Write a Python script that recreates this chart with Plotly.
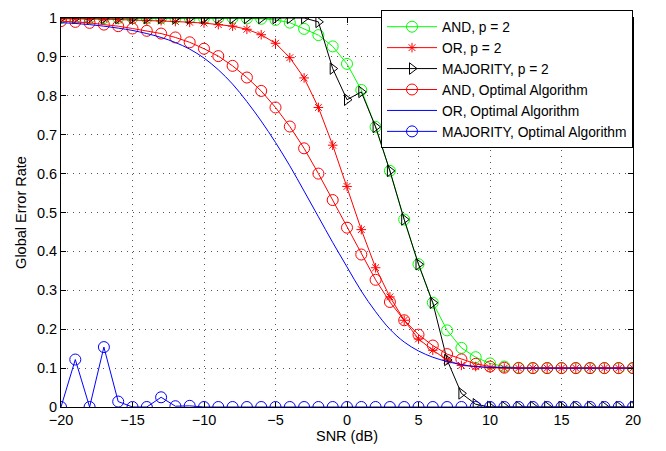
import plotly.graph_objects as go

snr = list(range(-20, 21))

and_p2 = [1.0, 1.0, 1.0, 1.0, 1.0, 1.0, 1.0, 1.0, 1.0, 1.0, 1.0, 1.0, 1.0, 0.999,
          0.998, 0.995, 0.988, 0.972, 0.956, 0.927, 0.882, 0.815, 0.72, 0.607,
          0.482, 0.367, 0.268, 0.197, 0.152, 0.128, 0.112, 0.104, 0.101,
          0.1, 0.1, 0.1, 0.1, 0.1, 0.1, 0.1, 0.1]

or_p2 = [0.998, 0.998, 0.997, 0.997, 0.996, 0.995, 0.994, 0.993, 0.991, 0.989,
         0.987, 0.983, 0.979, 0.971, 0.957, 0.935, 0.898, 0.846, 0.77, 0.673,
         0.567, 0.456, 0.358, 0.283, 0.223, 0.175, 0.146, 0.121, 0.107, 0.104,
         0.101, 0.1, 0.1, 0.1, 0.1, 0.1, 0.1, 0.1, 0.1, 0.1, 0.1]

maj_p2 = [1.0, 1.0, 1.0, 1.0, 1.0, 1.0, 1.0, 1.0, 1.0, 1.0, 1.0, 1.0, 1.0, 1.0,
          1.0, 1.0, 1.0, 1.0, 0.99, 0.87, 0.79, 0.81, 0.72, 0.607, 0.482,
          0.367, 0.268, 0.121, 0.035, 0.007, 0, 0, 0, 0, 0, 0, 0, 0, 0, 0, 0]

and_opt = [0.992, 0.99, 0.9875, 0.983, 0.979, 0.973, 0.967, 0.96, 0.95, 0.9375,
           0.921, 0.902, 0.877, 0.847, 0.8125, 0.77, 0.721, 0.665, 0.6, 0.532,
           0.461, 0.392, 0.327, 0.27, 0.223, 0.186, 0.158, 0.136, 0.1225, 0.111,
           0.104, 0.101, 0.1, 0.1, 0.1, 0.1, 0.1, 0.1, 0.1, 0.1, 0.1]

or_opt = [0.988, 0.986, 0.983, 0.979, 0.974, 0.968, 0.96, 0.95, 0.937, 0.92,
          0.897, 0.867, 0.83, 0.785, 0.735, 0.68, 0.62, 0.555, 0.489, 0.423,
          0.36, 0.298, 0.245, 0.2, 0.167, 0.144, 0.128, 0.117, 0.109, 0.104,
          0.102, 0.101, 0.1, 0.1, 0.1, 0.1, 0.1, 0.1, 0.1, 0.1, 0.1]

maj_opt = [0, 0.122, 0, 0.154, 0.014, 0, 0, 0.025, 0.002, 0.003, 0, 0, 0, 0,
           0, 0, 0, 0, 0, 0, 0, 0, 0, 0, 0, 0, 0, 0, 0, 0, 0, 0, 0, 0, 0, 0,
           0, 0, 0, 0, 0]

names = ["AND, p = 2", "OR, p = 2", "MAJORITY, p = 2", "AND, Optimal Algorithm",
         "OR, Optimal Algorithm", "MAJORITY, Optimal Algorithm"]

x_ticks = [-20, -15, -10, -5, 0, 5, 10, 15, 20]
y_ticks = [0, 0.1, 0.2, 0.3, 0.4, 0.5, 0.6, 0.7, 0.8, 0.9, 1]
y_ticklabels = ["0", "0.1", "0.2", "0.3", "0.4", "0.5", "0.6", "0.7", "0.8", "0.9", "1"]

FONT = "Liberation Sans, Arial, Helvetica, sans-serif"
FS = 14.5
LFS = 13.8

fig = go.Figure()
fig.add_trace(go.Scatter(x=snr, y=and_p2, name=names[0], mode="lines+markers",
                         line=dict(color="#00ff00", width=1),
                         marker=dict(symbol="circle-open", size=11, color="#00ff00",
                                     line=dict(width=1))))
fig.add_trace(go.Scatter(x=snr, y=or_p2, name=names[1], mode="lines+markers",
                         line=dict(color="#ff0000", width=1),
                         marker=dict(symbol="asterisk-open", size=8, color="#ff0000",
                                     line=dict(width=1, color="#ff0000"))))
fig.add_trace(go.Scatter(x=snr, y=maj_p2, name=names[2], mode="lines+markers",
                         line=dict(color="#000000", width=1),
                         marker=dict(symbol="triangle-right-open", size=10, color="#000000",
                                     line=dict(width=1))))
fig.add_trace(go.Scatter(x=snr, y=and_opt, name=names[3], mode="lines+markers",
                         line=dict(color="#ff0000", width=1),
                         marker=dict(symbol="circle-open", size=11, color="#ff0000",
                                     line=dict(width=1))))
fig.add_trace(go.Scatter(x=snr, y=or_opt, name=names[4], mode="lines",
                         line=dict(color="#0000ff", width=1, shape="spline")))
fig.add_trace(go.Scatter(x=snr, y=maj_opt, name=names[5], mode="lines+markers",
                         line=dict(color="#0000ff", width=1),
                         marker=dict(symbol="circle-open", size=11, color="#0000ff",
                                     line=dict(width=1))))

axis_common = dict(
    showline=True, linecolor="black", linewidth=1, mirror="ticks",
    ticks="inside", ticklen=5, tickcolor="black",
    showgrid=True, gridcolor="#555555", gridwidth=1, griddash="1px,5px",
    zeroline=False,
    tickfont=dict(family=FONT, size=FS, color="black"),
)

fig.update_layout(
    width=666, height=451,
    margin=dict(l=61, r=33, t=10, b=41),
    paper_bgcolor="white", plot_bgcolor="white",
    font=dict(family=FONT, size=FS, color="black"),
    showlegend=True,
    legend=dict(x=1, xanchor="right", y=1.02, yanchor="top",
                bgcolor="white", bordercolor="black", borderwidth=1,
                font=dict(family=FONT, size=LFS, color="black"),
                itemwidth=50, tracegroupgap=0),
    xaxis=dict(range=[-20, 20], tickvals=x_ticks,
               title=dict(text="SNR (dB)", standoff=2,
                          font=dict(family=FONT, size=FS)),
               **axis_common),
    yaxis=dict(range=[0, 1], tickvals=y_ticks, ticktext=y_ticklabels,
               title=dict(text="Global Error Rate", standoff=6,
                          font=dict(family=FONT, size=FS)),
               **axis_common),
)

fig.write_html("out.html")
